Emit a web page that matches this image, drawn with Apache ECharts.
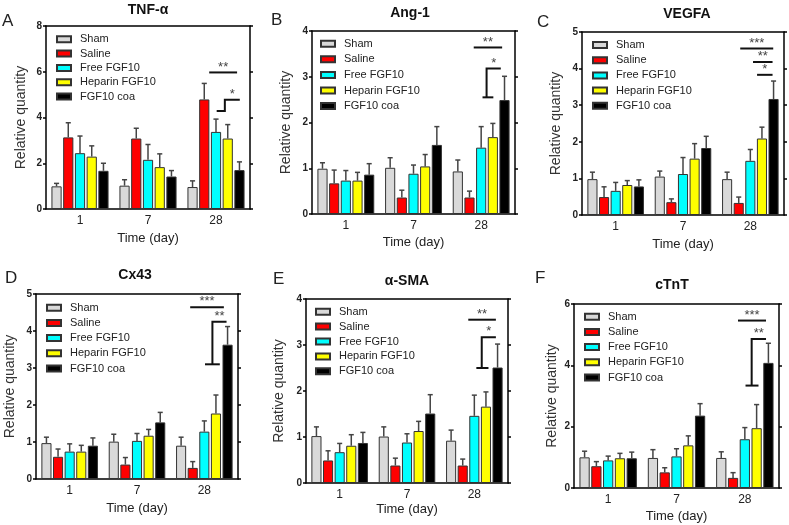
<!DOCTYPE html>
<html><head><meta charset="utf-8">
<script src="https://cdn.jsdelivr.net/npm/echarts@6/dist/echarts.min.js"></script>
<style>html,body{margin:0;padding:0;background:#fff}#c{width:789px;height:525px}</style>
</head><body><div id="c"></div>
<script>
// ---- data ----
const days = ['1', '7', '28'];
const groups = ['Sham', 'Saline', 'Free FGF10', 'Heparin FGF10', 'FGF10 coa'];
const colors = ['#d9d9d9', '#ff0000', '#00ffff', '#ffff00', '#000000'];

// mean values [group][day]
const tnfMean = [[0.99,1.02,0.96],[3.13,3.08,4.79],[2.44,2.15,3.37],[2.29,1.83,3.08],[1.67,1.42,1.70]];
const tnfUpper = [[1.12,1.28,1.23],[3.77,3.53,5.49],[3.19,2.82,3.93],[2.76,2.41,3.69],[2.00,1.68,2.06]];
const angMean = [[0.99,1.01,0.93],[0.67,0.36,0.36],[0.73,0.88,1.45],[0.73,1.04,1.68],[0.86,1.51,2.49]];
const angUpper = [[1.12,1.23,1.18],[0.96,0.52,0.50],[0.95,1.07,1.91],[0.91,1.30,1.98],[1.10,1.91,3.01]];
const vegfMean = [[0.98,1.05,0.98],[0.49,0.35,0.33],[0.66,1.12,1.48],[0.82,1.54,2.09],[0.78,1.83,3.17]];
const vegfUpper = [[1.17,1.20,1.17],[0.77,0.44,0.49],[0.89,1.57,1.79],[0.94,1.95,2.40],[0.96,2.15,3.66]];
const cxMean = [[0.97,1.01,0.90],[0.60,0.39,0.30],[0.74,1.03,1.28],[0.74,1.17,1.77],[0.90,1.53,3.63]];
const cxUpper = [[1.13,1.21,1.13],[0.81,0.58,0.47],[0.95,1.23,1.57],[0.91,1.34,2.27],[1.11,1.80,4.12]];
const smaMean = [[1.02,1.01,0.92],[0.49,0.38,0.38],[0.67,0.88,1.46],[0.81,1.13,1.66],[0.87,1.51,2.51]];
const smaUpper = [[1.22,1.22,1.15],[0.70,0.54,0.52],[0.86,1.07,1.91],[1.05,1.34,1.98],[1.10,1.92,3.02]];
const tntMean = [[1.00,0.98,0.98],[0.71,0.51,0.33],[0.90,1.03,1.59],[0.97,1.39,1.95],[0.97,2.36,4.08]];
const tntUpper = [[1.20,1.25,1.18],[0.86,0.66,0.50],[1.04,1.28,1.97],[1.13,1.70,2.72],[1.17,2.75,4.72]];

// significance marks in data space (x: category index, y: value)
const tnfSig = [
  {paths: [[[1.90,5.97],[2.31,5.97]]], mark: '**'},
  {paths: [[[2.01,4.28],[2.13,4.28],[2.13,4.78],[2.35,4.78]]], mark: '*'}
];
const angSig = [
  {paths: [[[1.89,3.64],[2.31,3.64]]], mark: '**'},
  {paths: [[[2.02,2.55],[2.18,2.55]], [[2.08,2.55],[2.08,3.18],[2.29,3.18]]], mark: '*'}
];
const vegfSig = [
  {paths: [[[1.85,4.55],[2.34,4.55]]], mark: '***'},
  {paths: [[[2.04,4.18],[2.33,4.18]]], mark: '**'},
  {paths: [[[2.10,3.83],[2.33,3.83]]], mark: '*'}
];
const cxSig = [
  {paths: [[[1.79,4.64],[2.29,4.64]]], mark: '***'},
  {paths: [[[2.01,3.10],[2.23,3.10]], [[2.12,3.10],[2.12,4.25],[2.33,4.25]]], mark: '**'}
];
const smaSig = [
  {paths: [[[1.91,3.55],[2.32,3.55]]], mark: '**'},
  {paths: [[[2.03,2.50],[2.21,2.50]], [[2.11,2.50],[2.11,3.17],[2.32,3.17]]], mark: '*'}
];
const tntSig = [
  {paths: [[[1.90,5.46],[2.31,5.46]]], mark: '***'},
  {paths: [[[2.01,3.34],[2.20,3.34]], [[2.10,3.34],[2.10,4.86],[2.31,4.86]]], mark: '**'}
];

// ---- layout ----
const FONT = '"Liberation Sans", Arial, sans-serif';
const panels = [
  {letter:'A', title:'TNF-\u03b1', mean:tnfMean, upper:tnfUpper, sig:tnfSig, max:8, step:2,
   grid:{left:46, top:26, width:204, height:183}, letterPos:[2,21], titlePos:[148,10],
   legend:{left:56, top:33.3, gap:2.3}, yGap:18, xGap:23},
  {letter:'B', title:'Ang-1', mean:angMean, upper:angUpper, sig:angSig, max:4, step:1,
   grid:{left:312, top:31, width:203, height:183}, letterPos:[271,20], titlePos:[410,13],
   legend:{left:320, top:37.7, gap:3.6}, yGap:19, xGap:22},
  {letter:'C', title:'VEGFA', mean:vegfMean, upper:vegfUpper, sig:vegfSig, max:5, step:1,
   grid:{left:582, top:32, width:202, height:183}, letterPos:[537,22], titlePos:[687,14],
   legend:{left:592, top:39, gap:3.2}, yGap:19, xGap:23},
  {letter:'D', title:'Cx43', mean:cxMean, upper:cxUpper, sig:cxSig, max:5, step:1,
   grid:{left:36, top:294, width:202, height:185}, letterPos:[5,278], titlePos:[135,275],
   legend:{left:46, top:301.7, gap:3.2}, yGap:19, xGap:23},
  {letter:'E', title:'\u03b1-SMA', mean:smaMean, upper:smaUpper, sig:smaSig, max:4, step:1,
   grid:{left:306, top:299, width:202, height:184}, letterPos:[273,279], titlePos:[407,281],
   legend:{left:315, top:305.7, gap:2.9}, yGap:20, xGap:20},
  {letter:'F', title:'cTnT', mean:tntMean, upper:tntUpper, sig:tntSig, max:6, step:2,
   grid:{left:574, top:304, width:205, height:184}, letterPos:[535,278], titlePos:[672,285],
   legend:{left:584, top:310.7, gap:3.2}, yGap:15, xGap:22}
];

const CAT_GAP = 0.16, BAR_GAP = 0.15;
const AX = {color:'#000', width:1.5};

const option = {
  animation: false,
  backgroundColor: '#fff',
  textStyle: {fontFamily: FONT},
  grid: [], xAxis: [], yAxis: [], series: [], legend: [], graphic: []
};

panels.forEach((p, k) => {
  option.grid.push(Object.assign({containLabel:false}, p.grid));
  // bottom category axis
  option.xAxis.push({
    gridIndex:k, type:'category', data:days, position:'bottom',
    axisLine:{onZero:false, lineStyle:AX}, axisTick:{alignWithLabel:true, length:3, lineStyle:AX},
    axisLabel:{fontSize:12, color:'#222', margin:6, fontFamily:FONT},
    name:'Time (day)', nameLocation:'middle', nameGap:p.xGap,
    nameTextStyle:{fontSize:13, color:'#222', fontFamily:FONT}
  });
  // top frame axis
  option.xAxis.push({
    gridIndex:k, type:'category', data:days, position:'top',
    axisLine:{onZero:false, lineStyle:AX}, axisTick:{alignWithLabel:true, length:3, lineStyle:AX},
    axisLabel:{show:false}
  });
  // hidden value axis for annotations
  option.xAxis.push({gridIndex:k, type:'value', min:-0.5, max:2.5, show:false,
    axisLine:{onZero:false}});
  option.yAxis.push({
    gridIndex:k, type:'value', min:0, max:p.max, interval:p.step, position:'left',
    axisLine:{show:true, onZero:false, lineStyle:AX}, axisTick:{show:true, length:3, lineStyle:AX},
    axisLabel:{fontSize:10, fontWeight:'bold', color:'#222', margin:4, fontFamily:FONT},
    splitLine:{show:false},
    name:'Relative quantity', nameLocation:'middle', nameGap:p.yGap,
    nameTextStyle:{fontSize:14, color:'#333', fontFamily:FONT}
  });
  option.yAxis.push({
    gridIndex:k, type:'value', min:0, max:p.max, interval:p.step, position:'right',
    axisLine:{show:true, onZero:false, lineStyle:AX}, axisTick:{show:true, length:3, lineStyle:AX},
    axisLabel:{show:false}, splitLine:{show:false}
  });
  const xi = k*3, yi = k*2;
  groups.forEach((g, gi) => {
    option.series.push({
      type:'bar', name:g, xAxisIndex:xi, yAxisIndex:yi, data:p.mean[gi],
      barCategoryGap:(CAT_GAP*100)+'%', barGap:(BAR_GAP*100)+'%',
      itemStyle:{color:colors[gi], borderColor:'#333', borderWidth:1}
    });
  });
  // error bars
  const errData = [];
  groups.forEach((g, gi) => days.forEach((d, di) => errData.push([di, p.mean[gi][di], p.upper[gi][di], gi])));
  option.series.push({
    type:'custom', xAxisIndex:xi, yAxisIndex:yi, data:errData, z:5,
    encode:{x:0, y:[1,2]}, silent:true,
    renderItem:(params, api) => {
      const di = api.value(0), m = api.value(1), e = api.value(2), gi = api.value(3);
      const band = api.size([1,0])[0];
      const usable = band*(1-CAT_GAP);
      const w = usable/(5 + 4*BAR_GAP);
      const off = -usable/2 + w/2 + gi*w*(1+BAR_GAP);
      const p0 = api.coord([di, m]), p1 = api.coord([di, e]);
      const x = p0[0] + off, cap = w*0.5;
      const st = {stroke:'#444', lineWidth:1.5};
      return {type:'group', children:[
        {type:'line', shape:{x1:x, y1:p0[1], x2:x, y2:p1[1]}, style:st},
        {type:'line', shape:{x1:x-cap/2, y1:p1[1], x2:x+cap/2, y2:p1[1]}, style:st}
      ]};
    }
  });
  // significance annotations
  option.series.push({
    type:'custom', xAxisIndex:xi+2, yAxisIndex:yi, silent:true, z:6,
    data:p.sig.map(s => [s.paths[0][0][0], s.paths[0][0][1]]),
    renderItem:(params, api) => {
      const s = p.sig[params.dataIndex];
      const children = s.paths.map(path => ({
        type:'polyline', shape:{points:path.map(pt => api.coord(pt))},
        style:{stroke:'#111', lineWidth:2, fill:null}
      }));
      const last = s.paths[s.paths.length-1];
      const a = api.coord(last[last.length-2]), b = api.coord(last[last.length-1]);
      children.push({type:'text', x:(a[0]+b[0])/2, y:b[1]+1,
        style:{text:s.mark, font:'13px '+FONT, fill:'#444', align:'center', verticalAlign:'bottom'}});
      return {type:'group', children};
    }
  });
  option.legend.push({
    data:groups, orient:'vertical', left:p.legend.left, top:p.legend.top,
    itemWidth:14, itemHeight:6, itemGap:p.legend.gap, padding:0, icon:'rect',
    selectedMode:false,
    textStyle:{fontSize:11, color:'#222', lineHeight:12, padding:[0,0,0,4], fontFamily:FONT}
  });
  option.graphic.push({type:'text', x:p.titlePos[0], y:p.titlePos[1],
    style:{text:p.title, font:'bold 14px '+FONT, fill:'#111', align:'center', verticalAlign:'middle'}});
  option.graphic.push({type:'text', x:p.letterPos[0], y:p.letterPos[1],
    style:{text:p.letter, font:'17px '+FONT, fill:'#222', align:'left', verticalAlign:'middle'}});
});

const chart = echarts.init(document.getElementById('c'), null, {renderer:'canvas'});
chart.setOption(option);
</script></body></html>
